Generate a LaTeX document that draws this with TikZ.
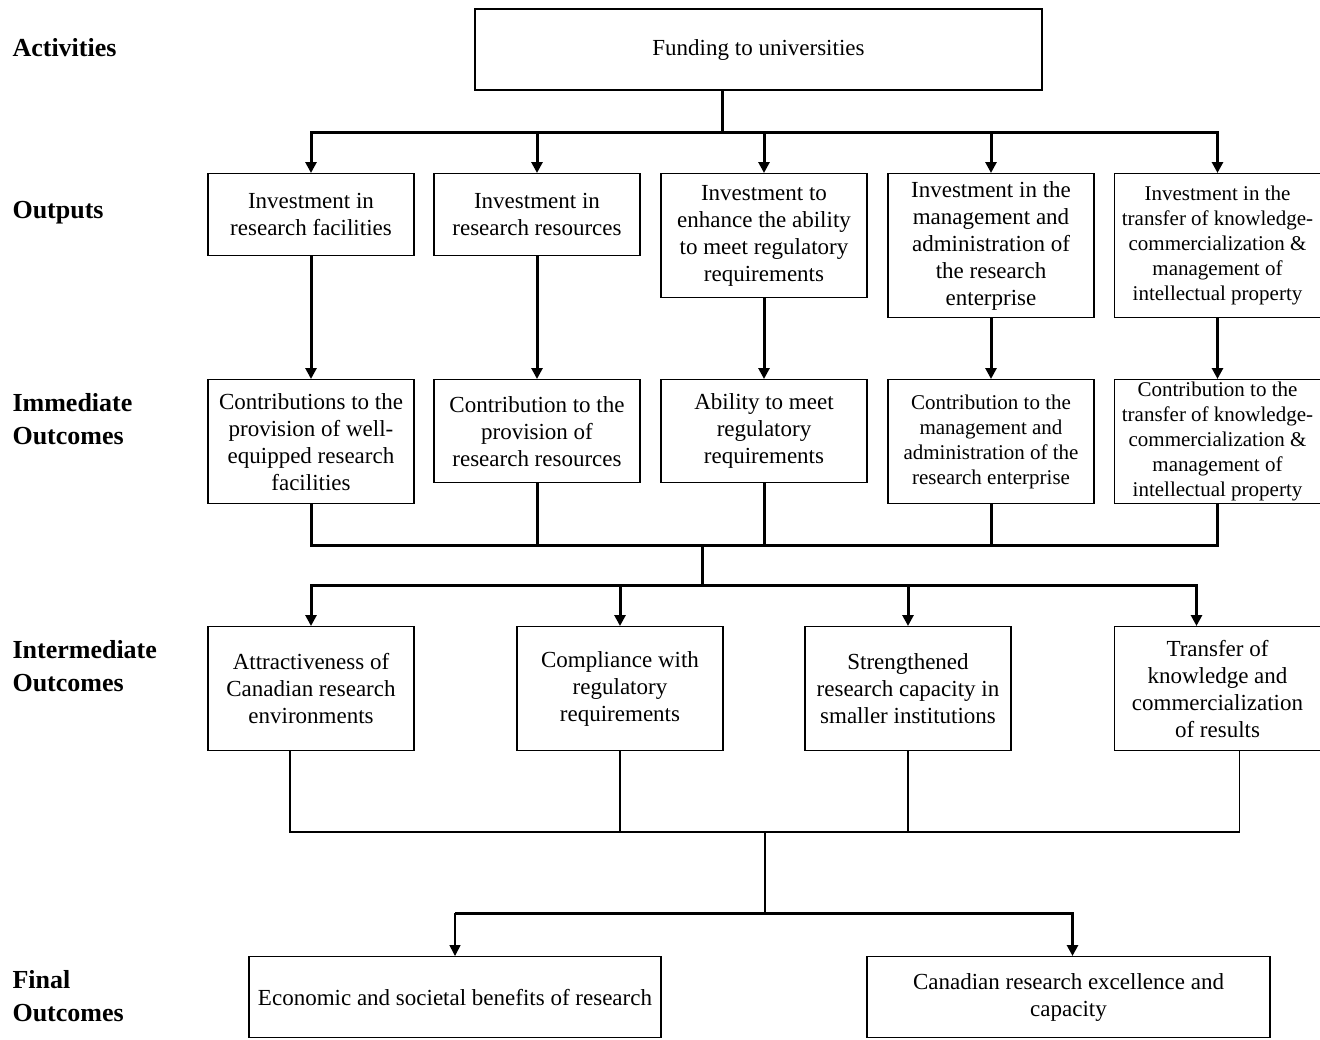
\documentclass[tikz,border=0pt]{standalone}
\usepackage{fontspec}
\setmainfont{Liberation Serif}
\usetikzlibrary{arrows.meta, positioning}

\begin{document}
\begin{tikzpicture}[x=1pt, y=-1pt,
    box/.style={draw, line width=1.4pt, align=center, inner sep=2pt,
      font=\fontsize{23}{27}\selectfont, minimum width=206pt},
    tight/.style={font=\fontsize{21}{25}\selectfont, inner ysep=0pt},
    lvl/.style={anchor=west, align=left, font=\fontsize{26}{33}\selectfont\bfseries},
    thk/.style={line width=3pt},
    thn/.style={line width=1.5pt},
    tip/.style={-{Triangle[length=11pt,width=11pt]}}]
  \useasboundingbox[fill=white] (0,0) rectangle (1320,1039);
  % level labels
  \node[lvl] (lact) at (9,48) {Activities};
  \node[lvl] (lout) at (9,213) {Outputs};
  \node[lvl] (limm) at (9,419) {Immediate\\Outcomes};
  \node[lvl] (lint) at (9,666) {Intermediate\\Outcomes};
  \node[lvl] (lfin) at (9,996) {Final\\Outcomes};
  % activities
  \node[box, minimum width=567pt, minimum height=81pt] (fund) at (758.5,49.5) {Funding to universities};
  % outputs
  \node[box, anchor=north, minimum height=82pt] (o1) at (311,173) {Investment in\\research facilities};
  \node[box, anchor=north, minimum height=82pt] (o2) at (537,173) {Investment in\\research resources};
  \node[box, anchor=north, minimum height=124pt] (o3) at (764,173) {Investment to\\enhance the ability\\to meet regulatory\\requirements};
  \node[box, anchor=north, minimum height=144pt] (o4) at (991,173) {Investment in the\\management and\\administration of\\the research\\enterprise};
  \node[box, tight, anchor=north, minimum height=144pt] (o5) at (1217.5,173) {Investment in the\\transfer of knowledge-\\commercialization \&\\management of\\intellectual property};
  % immediate outcomes
  \node[box, anchor=north, minimum height=124pt] (i1) at (311,379) {Contributions to the\\provision of well-\\equipped research\\facilities};
  \node[box, anchor=north, minimum height=103pt] (i2) at (537,379) {Contribution to the\\provision of\\research resources};
  \node[box, anchor=north, minimum height=103pt] (i3) at (764,379) {Ability to meet\\regulatory\\requirements};
  \node[box, tight, anchor=north, minimum height=124pt] (i4) at (991,379) {Contribution to the\\management and\\administration of the\\research enterprise};
  \node[box, tight, anchor=north, minimum height=124pt] (i5) at (1217.5,379) {Contribution to the\\transfer of knowledge-\\commercialization \&\\management of\\intellectual property};
  % intermediate outcomes
  \node[box, anchor=north, minimum height=124pt] (m1) at (311,626) {Attractiveness of\\Canadian research\\environments};
  \node[box, anchor=north, minimum height=124pt] (m2) at (620,626) {Compliance with\\regulatory\\requirements};
  \node[box, anchor=north, minimum height=124pt] (m3) at (908,626) {Strengthened\\research capacity in\\smaller institutions};
  \node[box, anchor=north, minimum height=124pt] (m4) at (1217.5,626) {Transfer of\\knowledge and\\commercialization\\of results};
  % final outcomes
  \node[box, anchor=north, minimum width=412pt, minimum height=81pt] (f1) at (455,956) {Economic and societal benefits of research};
  \node[box, anchor=north, minimum width=403pt, minimum height=81pt] (f2) at (1068.5,956) {Canadian research excellence and\\capacity};
  % connectors
  \coordinate (j1) at (722,132);
  \draw[thk] (fund.south -| j1) -- (j1);
  \foreach \n in {o1,o2,o3,o4,o5}
    \draw[thk,tip] (j1) -| (\n.north);
  \foreach \i in {1,...,5}
    \draw[thk,tip] (o\i) -- (i\i);
  \coordinate (j2) at (702,545);
  \coordinate (j3) at (702,585);
  \foreach \i in {1,...,5}
    \draw[thk] (i\i.south) |- (j2);
  \draw[thk] (j2) -- (j3);
  \foreach \n in {m1,m2,m3}
    \draw[thk,tip] (j3) -| (\n.north);
  \draw[thk,tip] (j3) -| ([xshift=-21pt]m4.north);
  \coordinate (j4) at (765,832);
  \coordinate (j5) at (765,913);
  \draw[thn] ([xshift=-21pt]m1.south) |- (j4);
  \draw[thn] (m2.south) |- (j4);
  \draw[thn] (m3.south) |- (j4);
  \draw[thn] ([xshift=22pt]m4.south) |- (j4);
  \draw[thn] (j4) -- (j5);
  \draw[thk] (j5) -- (j5 -| f1.north);
  \draw[thn,tip] (j5 -| f1.north) -- (f1.north);
  \draw[thk,tip] (j5) -| ([xshift=4pt]f2.north);
\end{tikzpicture}
\end{document}
